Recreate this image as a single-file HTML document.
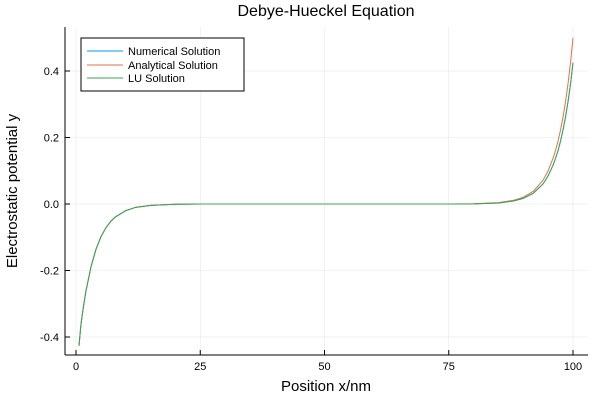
<!DOCTYPE html>
<html><head><meta charset="utf-8"><style>body{margin:0;background:#fff}svg{font-family:"Liberation Sans",sans-serif}</style></head>
<body>
<svg width="600" height="400">
<rect width="600" height="400" fill="#fff"/>
<g id="grid"></g>
<g id="axes"></g>
<g id="series"></g>
<text x="326" y="16" text-anchor="middle" font-size="16">Debye-Hueckel Equation</text>
<text x="326" y="391" text-anchor="middle" font-size="15">Position x/nm</text>
<text transform="translate(17,191) rotate(-90)" text-anchor="middle" font-size="15">Electrostatic potential y</text>
<g>
<rect x="81" y="38" width="163" height="53" fill="#fff" stroke="#000" stroke-width="1"/>
<line x1="87" y1="51" x2="123" y2="51" stroke="#009AFA"/>
<text x="128" y="55" font-size="11">Numerical Solution</text>
<line x1="87" y1="65" x2="123" y2="65" stroke="#E36F47"/>
<text x="128" y="69" font-size="11">Analytical Solution</text>
<line x1="87" y1="78" x2="123" y2="78" stroke="#3EA44E"/>
<text x="128" y="82" font-size="11">LU Solution</text>
</g>
</svg>
<script>
const xs=[0.6,1,1.5,2,3,4,5,6,7,8,10,12,15,20,25,30,40,50,60,70,75,80,85,88,90,92,94,95,96,96.5,97,97.5,98,98.5,99,99.5,100];
const numerical=[-0.427,-0.362,-0.308,-0.262,-0.19,-0.137,-0.099,-0.072,-0.052,-0.038,-0.02,-0.01,-0.004,-0.0007,0,0,0,0,0,0,0,0.0005,0.003,0.009,0.017,0.032,0.061,0.085,0.117,0.138,0.161,0.19,0.223,0.262,0.308,0.361,0.425];
const analytical=[-0.427,-0.362,-0.308,-0.262,-0.19,-0.137,-0.099,-0.072,-0.052,-0.038,-0.02,-0.01,-0.004,-0.0007,0,0,0,0,0,0,0,0.0006,0.004,0.011,0.02,0.038,0.072,0.1,0.138,0.162,0.19,0.223,0.262,0.308,0.362,0.425,0.5];
const lu=numerical.slice();
const xTicks=[0,25,50,75,100];
const yTicks=[-0.4,-0.2,0,0.2,0.4];
const L=65,R=588,T=27,B=355;
const X=v=>76+v*4.97, Y=v=>204-v*332.5;
const NS='http://www.w3.org/2000/svg';
function mk(t,a,p){const e=document.createElementNS(NS,t);for(const k in a)e.setAttribute(k,a[k]);p.appendChild(e);return e;}
const g=document.getElementById('grid'),ax=document.getElementById('axes'),s=document.getElementById('series');
xTicks.forEach(t=>{const l=mk('line',{x1:X(t),x2:X(t),y1:T,y2:B,stroke:'#000','stroke-opacity':0.1,'stroke-width':0.5},g);

const k=mk('line',{x1:X(t),x2:X(t),y1:B,y2:B-5,stroke:'#000'},ax);
const tx=mk('text',{x:X(t),y:B+15,'text-anchor':'middle','font-size':11},ax);tx.textContent=t;
});
yTicks.forEach(t=>{const l=mk('line',{x1:L,x2:R,y1:Y(t),y2:Y(t),stroke:'#000','stroke-opacity':0.1,'stroke-width':0.5},g);

const k=mk('line',{x1:L,x2:L+5,y1:Y(t),y2:Y(t),stroke:'#000'},ax);
const tx=mk('text',{x:L-6,y:Y(t)+4,'text-anchor':'end','font-size':11},ax);tx.textContent=t.toFixed(1);
});
const a1=mk('line',{x1:L,x2:R,y1:B,y2:B,stroke:'#000'},ax);
const a2=mk('line',{x1:L,x2:L,y1:T,y2:B,stroke:'#000'},ax);
[[numerical,'#009AFA','line-numerical'],[analytical,'#E36F47','line-analytical'],[lu,'#3EA44E','line-lu']].forEach(([d,c,n])=>{
const p=mk('polyline',{points:xs.map((x,i)=>X(x)+','+Y(d[i])).join(' '),fill:'none',stroke:c,'stroke-width':1,'stroke-linejoin':'round'},s);
});
</script>
</body></html>
